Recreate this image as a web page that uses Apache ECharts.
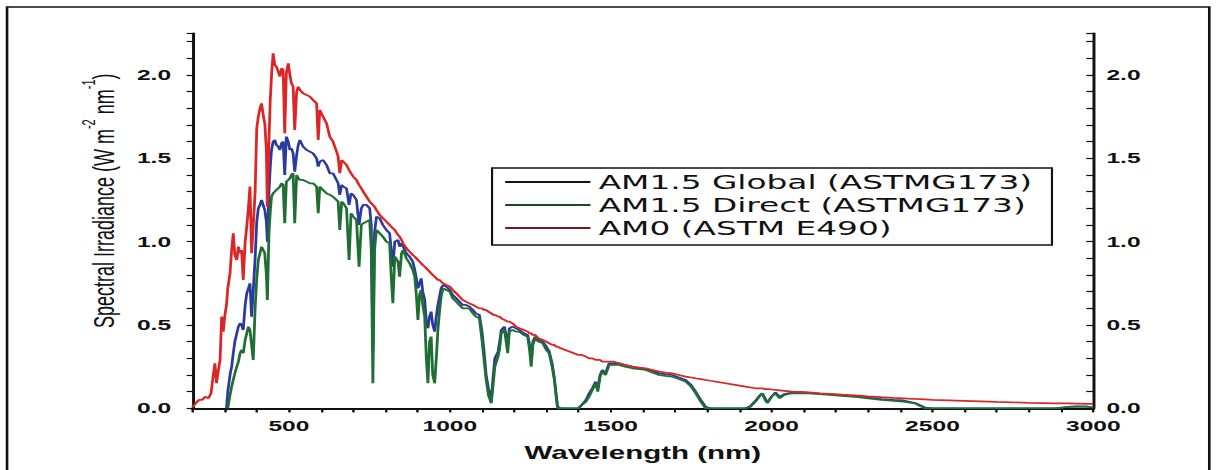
<!DOCTYPE html>
<html><head><meta charset="utf-8">
<script src="https://cdn.jsdelivr.net/npm/echarts@6/dist/echarts.min.js"></script>
<style>
html,body{margin:0;padding:0;background:#fff;overflow:hidden;width:1217px;height:470px;}
#chart{width:742px;height:470px;transform:scaleX(1.64016);transform-origin:0 0;}
</style></head><body><div id="chart"></div>
<script>
// Wavelength (nm)
const wl = [200,210,220,230,240,250,258,265,270,275,280,286,291,296,301,306,310,317,322,327,332,338,343,348,353,358,364,369,374,379,384,389,395,400,405,410,415,420,425,430,433,438,442,446,451,456,461,467,472,477,482,487,492,498,503,508,513,518,524,529,534,544,555,565,575,586,591,596,606,617,627,637,648,653,658,664,669,679,687,693,700,710,718,725,731,741,751,756,761,766,772,782,792,803,813,818,823,829,839,844,850,855,865,875,885,891,896,901,906,911,916,922,927,932,937,942,947,953,958,963,968,973,979,989,1000,1009,1020,1030,1040,1050,1061,1072,1081,1092,1100,1106,1113,1120,1129,1135,1140,1150,1155,1160,1170,1180,1185,1195,1206,1216,1230,1242,1248,1253,1258,1265,1275,1289,1300,1309,1318,1325,1330,1335,1345,1400,1410,1423,1433,1443,1453,1460,1467,1474,1484,1495,1510,1526,1545,1567,1590,1609,1630,1650,1670,1691,1712,1733,1750,1764,1780,1795,1810,1919,1935,1950,1962,1971,1980,1987,2000,2012,2025,2040,2064,2090,2116,2150,2180,2219,2260,2300,2342,2380,2410,2425,2446,2460,2477,2500,2600,2700,2800,2880,2920,2950,2980,3000];
// AM0 (ASTM E490)
const am0 = [0.005,0.03,0.05,0.05,0.07,0.06,0.09,0.20,0.27,0.15,0.22,0.29,0.55,0.46,0.56,0.62,0.72,0.81,0.95,1.05,0.92,0.89,0.97,0.93,0.95,0.77,1.00,1.09,1.20,1.33,0.93,1.09,1.30,1.68,1.75,1.80,1.83,1.76,1.71,1.55,1.21,1.61,1.85,2.00,2.13,2.06,2.05,2.02,1.99,2.04,2.03,1.65,2.01,2.07,2.00,1.95,1.93,1.67,1.90,1.93,1.91,1.89,1.88,1.87,1.85,1.83,1.61,1.79,1.75,1.71,1.63,1.60,1.54,1.51,1.41,1.49,1.48,1.46,1.43,1.41,1.39,1.37,1.34,1.32,1.30,1.27,1.24,1.23,1.22,1.21,1.19,1.16,1.14,1.12,1.10,1.09,1.08,1.07,1.04,1.03,1.01,0.99,0.96,0.94,0.92,0.91,0.90,0.89,0.88,0.87,0.86,0.85,0.84,0.83,0.82,0.81,0.80,0.79,0.78,0.77,0.77,0.76,0.75,0.74,0.73,0.71,0.69,0.67,0.65,0.64,0.63,0.62,0.61,0.60,0.60,0.59,0.59,0.58,0.57,0.56,0.56,0.55,0.55,0.54,0.53,0.52,0.52,0.51,0.49,0.48,0.47,0.46,0.45,0.45,0.44,0.44,0.42,0.41,0.40,0.39,0.38,0.38,0.37,0.37,0.36,0.32,0.32,0.31,0.30,0.30,0.29,0.29,0.29,0.28,0.28,0.28,0.28,0.27,0.26,0.25,0.245,0.24,0.23,0.22,0.215,0.21,0.20,0.19,0.185,0.18,0.175,0.17,0.165,0.13,0.125,0.12,0.12,0.12,0.115,0.115,0.113,0.11,0.108,0.105,0.10,0.098,0.095,0.09,0.087,0.082,0.077,0.072,0.067,0.063,0.06,0.058,0.056,0.055,0.053,0.05,0.044,0.038,0.033,0.03,0.029,0.028,0.027,0.026];
// AM1.5 Global (ASTMG173)
const global = [null,null,null,null,null,null,null,null,null,null,null,null,null,null,null,0.00,0.10,0.20,0.25,0.33,0.40,0.45,0.49,0.51,0.50,0.47,0.62,0.69,0.72,0.75,0.55,0.70,0.90,1.12,1.20,1.22,1.25,1.22,1.19,1.12,1.00,1.30,1.45,1.55,1.60,1.61,1.58,1.57,1.55,1.59,1.60,1.40,1.63,1.60,1.55,1.56,1.53,1.42,1.52,1.58,1.61,1.57,1.55,1.54,1.53,1.50,1.45,1.48,1.49,1.46,1.41,1.41,1.37,1.35,1.28,1.34,1.33,1.32,1.22,1.29,1.28,1.25,1.10,1.20,1.22,1.22,1.20,1.10,0.35,1.05,1.15,1.14,1.10,1.07,1.05,0.95,0.85,1.00,1.01,0.97,0.99,0.97,0.93,0.91,0.88,0.83,0.78,0.72,0.75,0.78,0.70,0.65,0.52,0.48,0.55,0.58,0.50,0.46,0.55,0.62,0.67,0.72,0.74,0.73,0.71,0.68,0.66,0.64,0.62,0.62,0.61,0.59,0.57,0.56,0.46,0.35,0.20,0.12,0.05,0.20,0.30,0.34,0.40,0.47,0.49,0.38,0.48,0.49,0.48,0.47,0.45,0.44,0.38,0.28,0.40,0.43,0.41,0.40,0.37,0.34,0.27,0.18,0.09,0.01,0.00,0.00,0.02,0.05,0.09,0.12,0.16,0.12,0.20,0.23,0.21,0.27,0.27,0.27,0.26,0.25,0.24,0.235,0.225,0.21,0.205,0.20,0.185,0.17,0.14,0.10,0.05,0.01,0.00,0.00,0.015,0.045,0.075,0.09,0.06,0.035,0.07,0.095,0.07,0.085,0.095,0.095,0.093,0.088,0.085,0.078,0.072,0.066,0.055,0.05,0.047,0.04,0.032,0.02,0.005,0.00,0.00,0.00,0.00,0.00,0.008,0.012,0.01,0.005];
// AM1.5 Direct (ASTMG173)
const direct = [null,null,null,null,null,null,null,null,null,null,null,null,null,null,null,null,0.00,0.08,0.13,0.17,0.21,0.25,0.28,0.33,0.35,0.33,0.41,0.45,0.49,0.47,0.38,0.29,0.60,0.78,0.89,0.93,0.97,0.95,0.93,0.80,0.65,1.05,1.18,1.27,1.29,1.30,1.31,1.32,1.33,1.35,1.34,1.11,1.36,1.37,1.38,1.40,1.41,1.11,1.40,1.38,1.37,1.37,1.36,1.35,1.35,1.33,1.17,1.33,1.31,1.29,1.28,1.27,1.25,1.24,1.07,1.24,1.23,1.20,0.89,1.17,1.15,1.13,0.85,1.10,1.11,1.12,1.13,0.95,0.15,0.95,1.07,1.05,1.03,1.00,0.99,0.79,0.63,0.91,0.88,0.79,0.93,0.95,0.90,0.87,0.83,0.79,0.68,0.53,0.68,0.71,0.62,0.55,0.30,0.15,0.40,0.43,0.20,0.15,0.30,0.47,0.58,0.67,0.72,0.71,0.70,0.66,0.64,0.62,0.60,0.60,0.60,0.57,0.55,0.54,0.41,0.30,0.17,0.08,0.03,0.15,0.25,0.31,0.36,0.45,0.47,0.33,0.46,0.47,0.46,0.46,0.44,0.43,0.35,0.25,0.38,0.42,0.40,0.39,0.35,0.33,0.25,0.17,0.08,0.00,0.00,0.00,0.02,0.04,0.07,0.11,0.15,0.10,0.19,0.22,0.20,0.26,0.26,0.26,0.25,0.24,0.235,0.23,0.215,0.20,0.195,0.19,0.175,0.16,0.13,0.09,0.04,0.00,0.00,0.00,0.01,0.04,0.07,0.09,0.05,0.03,0.07,0.09,0.06,0.08,0.09,0.09,0.09,0.085,0.08,0.075,0.068,0.06,0.05,0.045,0.04,0.035,0.03,0.015,0.00,0.00,0.00,0.00,0.00,0.00,0.008,0.01,0.01,0.005];
// Tick labels
const xLabels = [500,1000,1500,2000,2500,3000];
const yLabels = [0.0,0.5,1.0,1.5,2.0];
const seriesNames = ['AM1.5 Global (ASTMG173)','AM1.5 Direct (ASTMG173)','AM0 (ASTM E490)'];

const FONT = "'Liberation Sans', Arial, sans-serif";
const INK = '#111';
const lab = (list, d) => v => list.some(t => Math.abs(t - v) < 1e-6) ? Number(v).toFixed(d) : '';
const pairs = arr => wl.map((x, i) => [x, arr[i]]);

const chart = echarts.init(document.getElementById('chart'), null, {renderer: 'svg'});
const axisLine = {lineStyle: {color: INK, width: 1.8}};
const option = {
  animation: false,
  backgroundColor: '#fff',
  graphic: [{type: 'rect', silent: true, shape: {x: 4.3, y: 7, width: 733, height: 520},
    style: {fill: 'none', stroke: INK, lineWidth: 1.6}}],
  grid: {left: 117.3, right: 75.4, top: 33.3, bottom: 61.7},
  legend: {
    orient: 'vertical', left: 300, top: 168, padding: [4, 12, 7, 8],
    borderColor: INK, borderWidth: 1.3, itemWidth: 52, itemHeight: 2, itemGap: 3,
    icon: 'rect', selectedMode: false,
    textStyle: {fontFamily: "'DejaVu Sans', sans-serif", fontSize: 20, lineHeight: 19, color: INK},
    data: [
      {name: seriesNames[0], itemStyle: {color: '#101030'}},
      {name: seriesNames[1], itemStyle: {color: '#174a25'}},
      {name: seriesNames[2], itemStyle: {color: '#7a1616'}}
    ]
  },
  xAxis: [{
    type: 'value', min: 200, max: 3000, interval: 100, position: 'bottom',
    name: 'Wavelength (nm)', nameLocation: 'middle', nameGap: 35,
    nameTextStyle: {fontFamily: FONT, fontWeight: 'bold', fontSize: 18, color: INK},
    axisLine: axisLine, axisTick: {inside: false, length: 4, lineStyle: {color: INK, width: 1.2}},
    axisLabel: {formatter: lab(xLabels, 0), fontFamily: FONT, fontWeight: 'bold', fontSize: 15, color: INK, margin: 10},
    splitLine: {show: false}
  }, {
    type: 'value', min: 200, max: 3000, interval: 100, position: 'top',
    axisLine: axisLine, axisTick: {inside: true, length: 4, lineStyle: {color: INK, width: 1.2}},
    axisLabel: {show: false}, splitLine: {show: false}
  }],
  yAxis: [{
    type: 'value', min: 0, max: 2.25, interval: 0.1, position: 'left',
    name: '{a|Spectral Irradiance (W m}{s|-2}{a| nm}{s|-1}{a|)}',
    nameLocation: 'middle', nameGap: 44,
    nameTextStyle: {padding: [0, 0, 0, 40], rich: {
      a: {fontFamily: FONT, fontSize: 18, color: INK, lineHeight: 24, verticalAlign: 'bottom'},
      s: {fontFamily: FONT, fontSize: 11, color: INK, lineHeight: 14, verticalAlign: 'top'}
    }},
    axisLine: axisLine, axisTick: {inside: false, length: 3.5, lineStyle: {color: INK, width: 1.2}},
    axisLabel: {formatter: lab(yLabels, 1), fontFamily: FONT, fontWeight: 'bold', fontSize: 15, color: INK, margin: 13},
    splitLine: {show: false}
  }, {
    type: 'value', min: 0, max: 2.25, interval: 0.1, position: 'right',
    axisLine: axisLine, axisTick: {inside: true, length: 4.3, lineStyle: {color: INK, width: 1.2}},
    axisLabel: {formatter: lab(yLabels, 1), fontFamily: FONT, fontWeight: 'bold', fontSize: 15, color: INK, margin: 8},
    splitLine: {show: false}
  }],
  series: [
    {name: seriesNames[0], type: 'line', data: pairs(global), symbol: 'none', showSymbol: false,
     lineStyle: {color: '#2b3a9e', width: 1.7}, itemStyle: {color: '#2b3a9e'}},
    {name: seriesNames[1], type: 'line', data: pairs(direct), symbol: 'none', showSymbol: false,
     lineStyle: {color: '#1f6e33', width: 1.7}, itemStyle: {color: '#1f6e33'}},
    {name: seriesNames[2], type: 'line', data: pairs(am0), symbol: 'none', showSymbol: false,
     lineStyle: {color: '#dc2626', width: 1.7}, itemStyle: {color: '#dc2626'}}
  ]
};
chart.setOption(option);
</script></body></html>
